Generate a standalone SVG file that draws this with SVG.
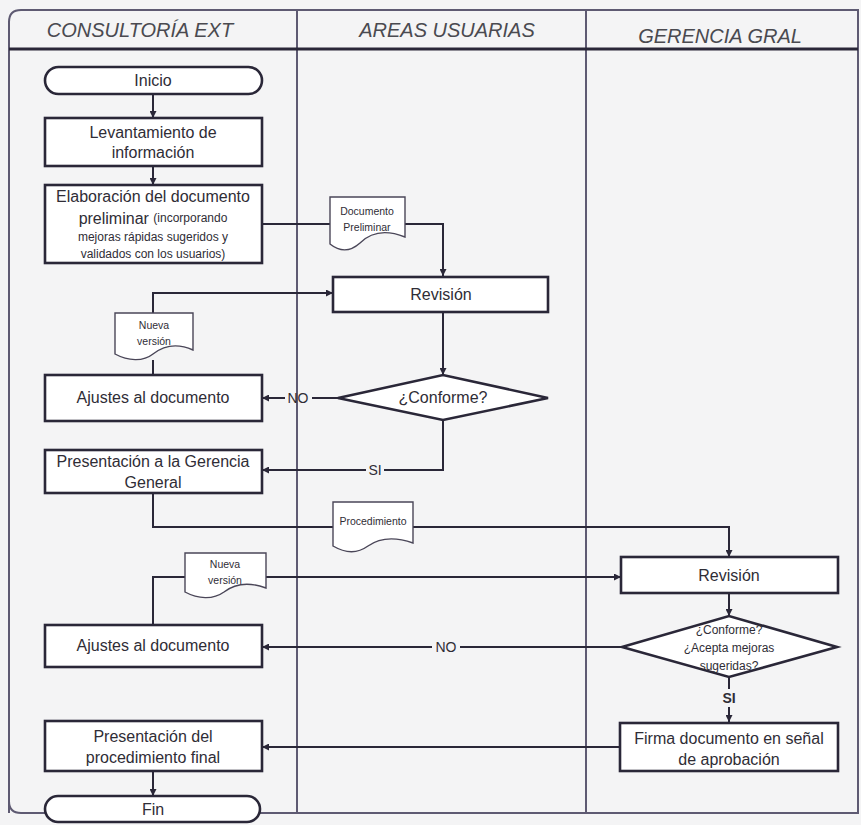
<svg xmlns="http://www.w3.org/2000/svg" width="861" height="825" viewBox="0 0 861 825">
<style>
.bg{fill:#f4f4f5}
.lane{stroke:#5e5a72;stroke-width:2;fill:none}
.hdr{font-family:"Liberation Sans",Arial,sans-serif;font-style:italic;font-size:20px;fill:#4a4a50}
.box{fill:#ffffff;stroke:#2a2738;stroke-width:2.6}
.doc{fill:#ffffff;stroke:#4a4658;stroke-width:1.4}
.t{font-family:"Liberation Sans",Arial,sans-serif;font-size:16px;fill:#2f2d36;text-anchor:middle;dominant-baseline:central}
.ts{font-family:"Liberation Sans",Arial,sans-serif;font-size:12px;fill:#2f2d36;text-anchor:middle;dominant-baseline:central}
.td{font-family:"Liberation Sans",Arial,sans-serif;font-size:10.5px;fill:#2f2d36;text-anchor:middle;dominant-baseline:central}
.lbl{font-family:"Liberation Sans",Arial,sans-serif;font-size:14px;fill:#2f2d36;text-anchor:middle;dominant-baseline:central}
.c{fill:none;stroke:#2a2738;stroke-width:2}
</style>
<defs>
<marker id="arr" viewBox="0 0 10 10" refX="10" refY="5" markerWidth="7" markerHeight="7" markerUnits="userSpaceOnUse" orient="auto">
<path d="M0,0 L10,5 L0,10 Z" fill="#2a2738"/>
</marker>
</defs>
<rect class="bg" x="0" y="0" width="861" height="825"/>
<g id="frame">
<path class="lane" d="M9,813 V22 Q9,10 21,10 H858 V813 H21 Q9,813 9,801"/>
<line class="lane" x1="297" y1="10" x2="297" y2="813"/>
<line class="lane" x1="586" y1="10" x2="586" y2="813"/>
<line x1="9" y1="49" x2="858" y2="49" stroke="#2a2738" stroke-width="3"/>
<text class="hdr" x="140" y="37" text-anchor="middle">CONSULTORÍA EXT</text>
<text class="hdr" x="447" y="37" text-anchor="middle">AREAS USUARIAS</text>
<text class="hdr" x="720" y="43" text-anchor="middle">GERENCIA GRAL</text>
</g>
<g id="connectors">
<line class="c" x1="153" y1="94" x2="153" y2="118" marker-end="url(#arr)"/>
<line class="c" x1="153" y1="166" x2="153" y2="185" marker-end="url(#arr)"/>
<path class="c" d="M262,224 H330 M405,224 H443 V276" marker-end="url(#arr)"/>
<path class="c" d="M153,375 V360 M153,313 V293 H333" marker-end="url(#arr)"/>
<line class="c" x1="443" y1="312" x2="443" y2="375" marker-end="url(#arr)"/>
<path class="c" d="M338,398 H312"/>
<path class="c" d="M285,398 H262" marker-end="url(#arr)"/>
<path class="c" d="M443,420 V470 H384"/>
<path class="c" d="M366,470 H262" marker-end="url(#arr)"/>
<path class="c" d="M153,493 V527 H333 M413,527 H729 V557" marker-end="url(#arr)"/>
<path class="c" d="M153,625 V577 H185 M266,577 H621" marker-end="url(#arr)"/>
<line class="c" x1="729" y1="593" x2="729" y2="616" marker-end="url(#arr)"/>
<path class="c" d="M622,647 H460"/>
<path class="c" d="M432,647 H262" marker-end="url(#arr)"/>
<path class="c" d="M729,677 V689"/>
<path class="c" d="M729,707 V722" marker-end="url(#arr)"/>
<line class="c" x1="620" y1="747" x2="262" y2="747" marker-end="url(#arr)"/>
<line class="c" x1="153" y1="771" x2="153" y2="796" marker-end="url(#arr)"/>
<text class="lbl" x="298" y="398">NO</text>
<text class="lbl" x="375" y="470">SI</text>
<text class="lbl" x="446" y="647">NO</text>
<text class="lbl" x="729" y="698" font-weight="bold">SI</text>
</g>
<g id="inicio">
<rect class="box" x="45" y="67" width="217" height="27" rx="13.5"/>
<text class="t" x="153" y="80" font-size="15">Inicio</text>
</g>
<g id="levantamiento">
<rect class="box" x="45" y="118" width="217" height="48"/>
<text class="t" x="153" y="132">Levantamiento de</text>
<text class="t" x="153" y="152">información</text>
</g>
<g id="elaboracion">
<rect class="box" x="45" y="185" width="217" height="78"/>
<text class="t" x="153" y="196">Elaboración del documento</text>
<text class="t" x="153" y="218">preliminar <tspan font-size="12px">(incorporando</tspan></text>
<text class="ts" x="153" y="237">mejoras rápidas sugeridos y</text>
<text class="ts" x="153" y="254">validados con los usuarios)</text>
</g>
<g id="doc-preliminar">
<path class="doc" d="M330,197 H405 V237 C385,229 370,233 360,243 C350,252 340,252 330,244 Z"/>
<text class="td" x="367" y="211">Documento</text>
<text class="td" x="367" y="227">Preliminar</text>
</g>
<g id="revision-areas">
<rect class="box" x="333" y="277" width="215" height="35"/>
<text class="t" x="441" y="294">Revisión</text>
</g>
<g id="nueva-version-1">
<path class="doc" d="M115,313 H193 V350 C175,342 162,347 153,354 C143,362 128,361 115,354 Z"/>
<text class="td" x="154" y="325">Nueva</text>
<text class="td" x="154" y="341">versión</text>
</g>
<g id="ajustes-1">
<rect class="box" x="45" y="375" width="217" height="46"/>
<text class="t" x="153" y="397">Ajustes al documento</text>
</g>
<g id="conforme-1">
<path class="box" stroke-width="1.6" d="M338,398 L443,375 L548,398 L443,420 Z"/>
<text class="t" x="443" y="397">¿Conforme?</text>
</g>
<g id="presentacion-gerencia">
<rect class="box" x="45" y="450" width="217" height="43"/>
<text class="t" x="153" y="461">Presentación a la Gerencia</text>
<text class="t" x="153" y="482">General</text>
</g>
<g id="doc-procedimiento">
<path class="doc" d="M333,502 H413 V543 C393,536 378,539 368,546 C357,554 345,553 333,546 Z"/>
<text class="td" x="373" y="521" font-size="10">Procedimiento</text>
</g>
<g id="revision-gerencia">
<rect class="box" x="621" y="557" width="217" height="36"/>
<text class="t" x="729" y="575">Revisión</text>
</g>
<g id="nueva-version-2">
<path class="doc" d="M185,553 H266 V588 C247,581 233,585 224,592 C213,600 198,599 185,592 Z"/>
<text class="td" x="225" y="564">Nueva</text>
<text class="td" x="225" y="580">versión</text>
</g>
<g id="ajustes-2">
<rect class="box" x="45" y="625" width="217" height="42"/>
<text class="t" x="153" y="645">Ajustes al documento</text>
</g>
<g id="conforme-2">
<path class="box" stroke-width="1.6" d="M622,647 L729,616 L837,647 L729,677 Z"/>
<text class="ts" x="729" y="630">¿Conforme?</text>
<text class="ts" x="729" y="648">¿Acepta mejoras</text>
<text class="ts" x="729" y="666">sugeridas?</text>
</g>
<g id="firma">
<rect class="box" x="620" y="723" width="218" height="48"/>
<text class="t" x="729" y="738">Firma documento en señal</text>
<text class="t" x="729" y="759">de aprobación</text>
</g>
<g id="presentacion-final">
<rect class="box" x="45" y="721" width="217" height="50"/>
<text class="t" x="153" y="736">Presentación del</text>
<text class="t" x="153" y="757">procedimiento final</text>
</g>
<g id="fin">
<rect class="box" x="45" y="796" width="215" height="26" rx="13"/>
<text class="t" x="153" y="809" font-size="15">Fin</text>
</g>
</svg>
